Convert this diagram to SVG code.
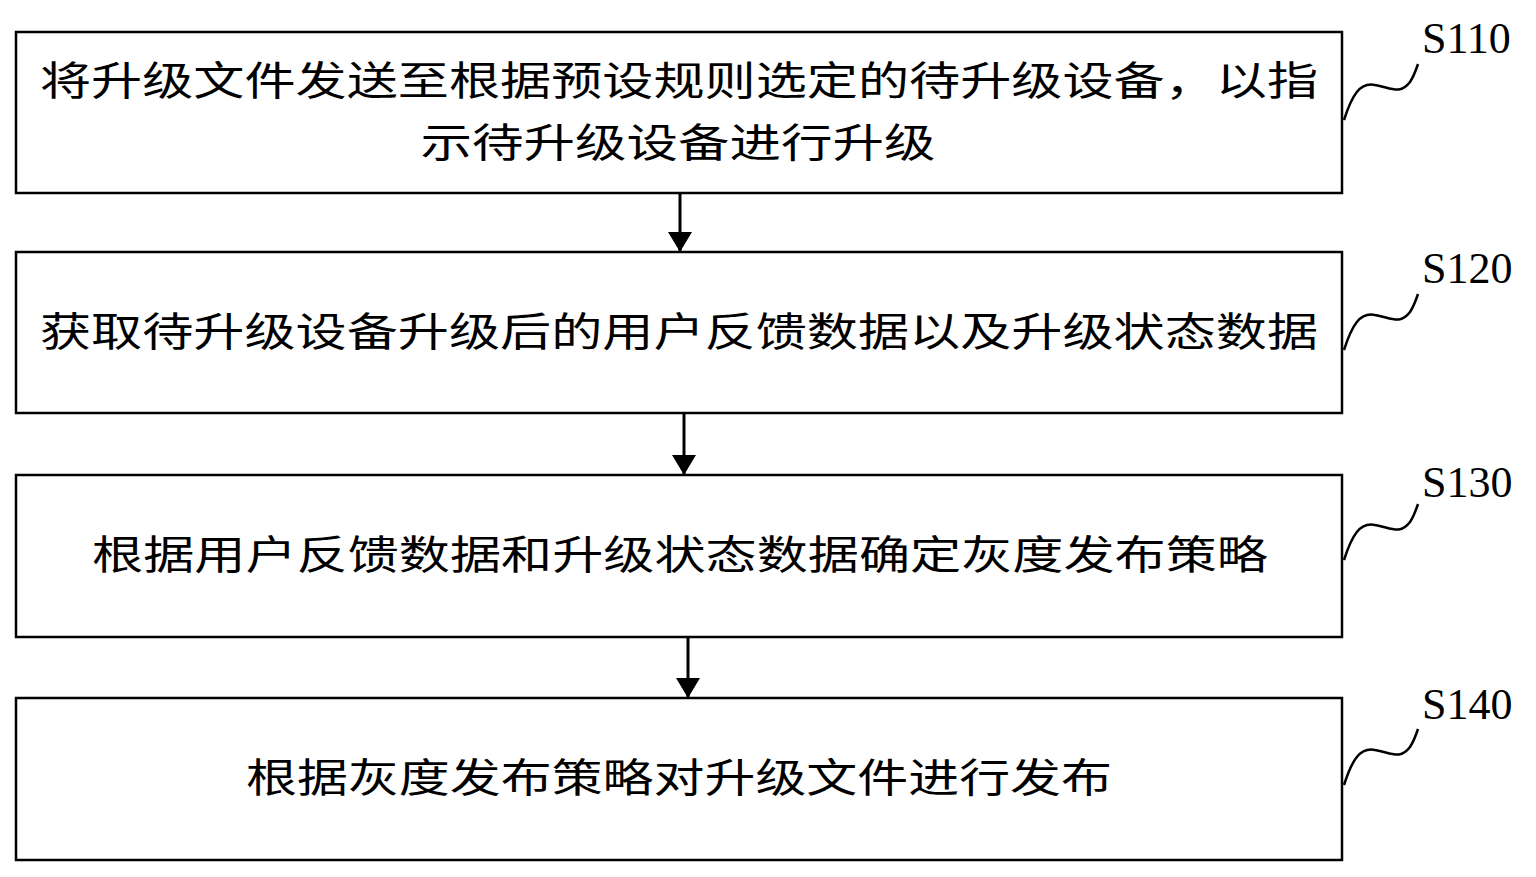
<svg xmlns="http://www.w3.org/2000/svg" width="1536" height="877" viewBox="0 0 1536 877">
<style>
.box{fill:#fff;stroke:#000;stroke-width:2.5}
.t{font-family:"Noto Sans CJK SC",sans-serif;font-size:40px;fill:#000}
.lb{font-family:"Liberation Serif",serif;font-size:44px;fill:#000}
.sq{fill:none;stroke:#000;stroke-width:2.5}
</style>
<defs>
<marker id="ah2" viewBox="0 0 20 24" refX="20" refY="12" markerWidth="20" markerHeight="24" orient="auto" markerUnits="userSpaceOnUse"><path d="M0,0 L20,12 L0,24 Z" fill="#000"/></marker></defs>
<rect width="1536" height="877" fill="#fff"/>
<g id="s110"><rect class="box" x="16" y="32" width="1326" height="161"/>
<text class="t" x="679" y="95" text-anchor="middle" textLength="1278" lengthAdjust="spacingAndGlyphs">将升级文件发送至根据预设规则选定的待升级设备，以指</text>
<text class="t" x="678" y="157" text-anchor="middle" textLength="515" lengthAdjust="spacingAndGlyphs">示待升级设备进行升级</text>
<path class="sq" d="M1344,120 C1352,95 1360,82 1375,85 C1392,88 1400,95 1410,82 C1414,76 1416,70 1418,64"/>
<text class="lb" x="1422" y="53">S110</text></g>
<g id="s120"><rect class="box" x="16" y="252" width="1326" height="161"/>
<text class="t" x="679" y="346" text-anchor="middle" textLength="1278" lengthAdjust="spacingAndGlyphs">获取待升级设备升级后的用户反馈数据以及升级状态数据</text>
<path class="sq" d="M1344,350 C1352,325 1360,312 1375,315 C1392,318 1400,325 1410,312 C1414,306 1416,300 1418,294"/>
<text class="lb" x="1422" y="283">S120</text></g>
<g id="s130"><rect class="box" x="16" y="475" width="1326" height="162"/>
<text class="t" x="680" y="569" text-anchor="middle" textLength="1176" lengthAdjust="spacingAndGlyphs">根据用户反馈数据和升级状态数据确定灰度发布策略</text>
<path class="sq" d="M1344,560 C1352,535 1360,522 1375,525 C1392,528 1400,535 1410,522 C1414,516 1416,510 1418,504"/>
<text class="lb" x="1422" y="497">S130</text></g>
<g id="s140"><rect class="box" x="16" y="698" width="1326" height="162"/>
<text class="t" x="679" y="792" text-anchor="middle" textLength="866" lengthAdjust="spacingAndGlyphs">根据灰度发布策略对升级文件进行发布</text>
<path class="sq" d="M1344,785 C1352,760 1360,747 1375,750 C1392,753 1400,760 1410,747 C1414,741 1416,735 1418,729"/>
<text class="lb" x="1422" y="719">S140</text></g>
<g id="connectors">
<line x1="680" y1="193" x2="680" y2="252" stroke="#000" stroke-width="3" marker-end="url(#ah2)"/>
<line x1="684" y1="413" x2="684" y2="475" stroke="#000" stroke-width="3" marker-end="url(#ah2)"/>
<line x1="688" y1="637" x2="688" y2="698" stroke="#000" stroke-width="3" marker-end="url(#ah2)"/>
</g>
</svg>
